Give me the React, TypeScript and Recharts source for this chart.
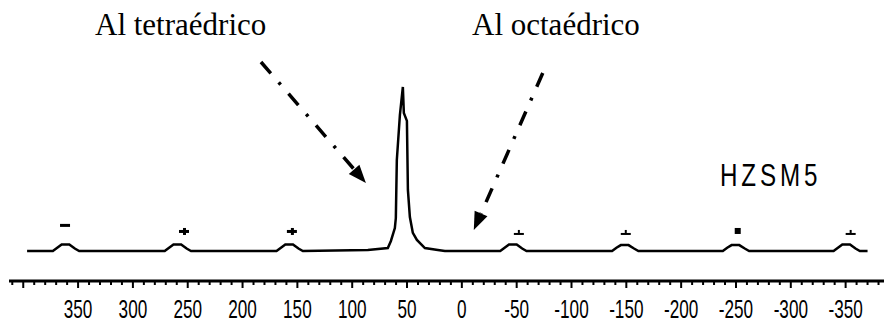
import { ComposedChart, Line, Scatter, XAxis, YAxis, ReferenceLine } from "recharts"

// 27Al MAS NMR spectrum, chemical shift (ppm) vs. intensity (main peak = 100)
const shiftPpm = [
  396.5,
  373, 369, 365, 358, 353, 349,
  271, 267, 263, 256, 251, 247,
  169, 165, 161, 154, 149, 145,
  85.7, 67.5, 64.7, 61.1, 60.2, 59.3, 56.5, 53.8, 52.9, 50.1, 49.2, 47.4, 44.7, 41.0, 33.7, 21.9, 15.5,
  -35, -39, -43, -50, -55, -59,
  -137, -141, -145, -152, -157, -161,
  -238, -242, -246, -253, -258, -262,
  -339, -343, -347, -354, -359, -363,
  -370,
]
const intensity = [
  0,
  0, 2, 4, 4, 1.5, 0,
  0, 2, 4, 4, 1.5, 0,
  0, 2, 4, 4, 1.5, 0,
  0.6, 1.8, 6.1, 14, 20.1, 55.5, 82.9, 100, 84.1, 79.3, 37.2, 20.7, 11, 6.7, 1.8, 0.6, 0,
  0, 2, 4, 4, 1.5, 0,
  0, 2, 3.6, 3.6, 1.5, 0,
  0, 2, 3.6, 3.6, 1.5, 0,
  0, 2, 4, 4, 1.5, 0,
  0,
]

// spinning sideband markers above each side peak
const markPpm = [361.9, 253.4, 155.0, -52.0, -149.5, -251.6, -354.6]
const markLevel = [15.9, 12.2, 12.2, 11.6, 11.6, 12.2, 11.6]
const markKind = ["minus", "plus", "plus", "foot", "foot", "dot", "foot"]

const axisLabels = [350, 300, 250, 200, 150, 100, 50, 0, -50, -100, -150, -200, -250, -300, -350]

// annotation arrows: [ppm, level] start -> end
const tetraArrow = [[183.2, 115.2], [87.5, 41.5]]
const octaArrow = [[-73.8, 108.5], [-10.9, 12.8]]

const spectrum = shiftPpm.map((p, i) => ({ ppm: p, intensity: intensity[i] }))
const marks = markPpm.map((p, i) => ({ ppm: p, level: markLevel[i], kind: markKind[i] }))

const minorTicks: number[] = []
for (let v = -380; v <= 410; v += 10) minorTicks.push(v)

function AxisTick(props: any) {
  const { x, y, payload } = props
  const major = payload.value % 50 === 0
  return (
    <g>
      <line x1={x} y1={y} x2={x} y2={y + (major ? 7 : 4)} stroke="#000" strokeWidth={2} />
      {major && axisLabels.includes(payload.value) && (
        <text
          transform={`translate(${x},${y + 37}) scale(0.66,1)`}
          textAnchor="middle"
          fontFamily="'Liberation Sans', Arial, sans-serif"
          fontSize={26}
          fill="#000"
        >
          {payload.value}
        </text>
      )}
    </g>
  )
}

function MarkShape(props: any) {
  const { cx, cy, payload } = props
  if (payload.kind === "minus") return <rect x={cx - 5} y={cy - 1} width={10} height={3} fill="#000" />
  if (payload.kind === "plus")
    return (
      <g>
        <rect x={cx - 5} y={cy - 1} width={10} height={3} fill="#000" />
        <rect x={cx - 1} y={cy - 3} width={3} height={7} fill="#000" />
      </g>
    )
  if (payload.kind === "dot") return <rect x={cx - 3} y={cy - 3} width={6} height={6} fill="#000" />
  return (
    <g>
      <rect x={cx - 5} y={cy + 1} width={10} height={2} fill="#000" />
      <rect x={cx - 1} y={cy - 2} width={2} height={3} fill="#000" />
    </g>
  )
}

function DashDotArrow(props: any) {
  const { x1, y1, x2, y2 } = props
  const len = Math.hypot(x2 - x1, y2 - y1)
  const ux = (x2 - x1) / len
  const uy = (y2 - y1) / len
  const head = 18
  const half = 7
  const bx = x2 - ux * head
  const by = y2 - uy * head
  return (
    <g>
      <line x1={x1} y1={y1} x2={bx} y2={by} stroke="#000" strokeWidth={3.5} strokeDasharray="15 12 3 12" />
      <polygon
        points={`${x2},${y2} ${bx - uy * half},${by + ux * half} ${bx + uy * half},${by - ux * half}`}
        fill="#000"
      />
    </g>
  )
}

export default function App() {
  return (
    <div style={{ width: 886, height: 326, background: "#fff" }}>
      <style>{`body{margin:0}`}</style>
      <ComposedChart width={886} height={326} margin={{ top: 0, right: 2, left: 9, bottom: 0 }}>
        <XAxis
          type="number"
          dataKey="ppm"
          domain={[-385, 413]}
          reversed
          ticks={minorTicks}
          interval={0}
          height={45}
          tickSize={0}
          tickMargin={0}
          axisLine={{ stroke: "#000", strokeWidth: 3 }}
          tickLine={false}
          tick={<AxisTick />}
          allowDataOverflow
        />
        <YAxis type="number" domain={[-18.3, 153]} hide allowDataOverflow />
        <Line
          data={spectrum}
          dataKey="intensity"
          type="linear"
          stroke="#000"
          strokeWidth={2.5}
          dot={false}
          isAnimationActive={false}
        />
        <Scatter data={marks} dataKey="level" shape={<MarkShape />} isAnimationActive={false} />
        <ReferenceLine
          segment={[
            { x: tetraArrow[0][0], y: tetraArrow[0][1] },
            { x: tetraArrow[1][0], y: tetraArrow[1][1] },
          ]}
          shape={DashDotArrow}
        />
        <ReferenceLine
          segment={[
            { x: octaArrow[0][0], y: octaArrow[0][1] },
            { x: octaArrow[1][0], y: octaArrow[1][1] },
          ]}
          shape={DashDotArrow}
        />
        <text x={95} y={35} fontFamily="'Liberation Serif', 'Times New Roman', serif" fontSize={31} fill="#000">
          Al tetraédrico
        </text>
        <text x={472} y={35} fontFamily="'Liberation Serif', 'Times New Roman', serif" fontSize={31} fill="#000">
          Al octaédrico
        </text>
        <text
          transform="translate(720,186) scale(0.78,1)"
          fontFamily="'Liberation Sans', Arial, sans-serif"
          fontSize={31}
          letterSpacing={5}
          fill="#000"
        >
          HZSM5
        </text>
      </ComposedChart>
    </div>
  )
}
